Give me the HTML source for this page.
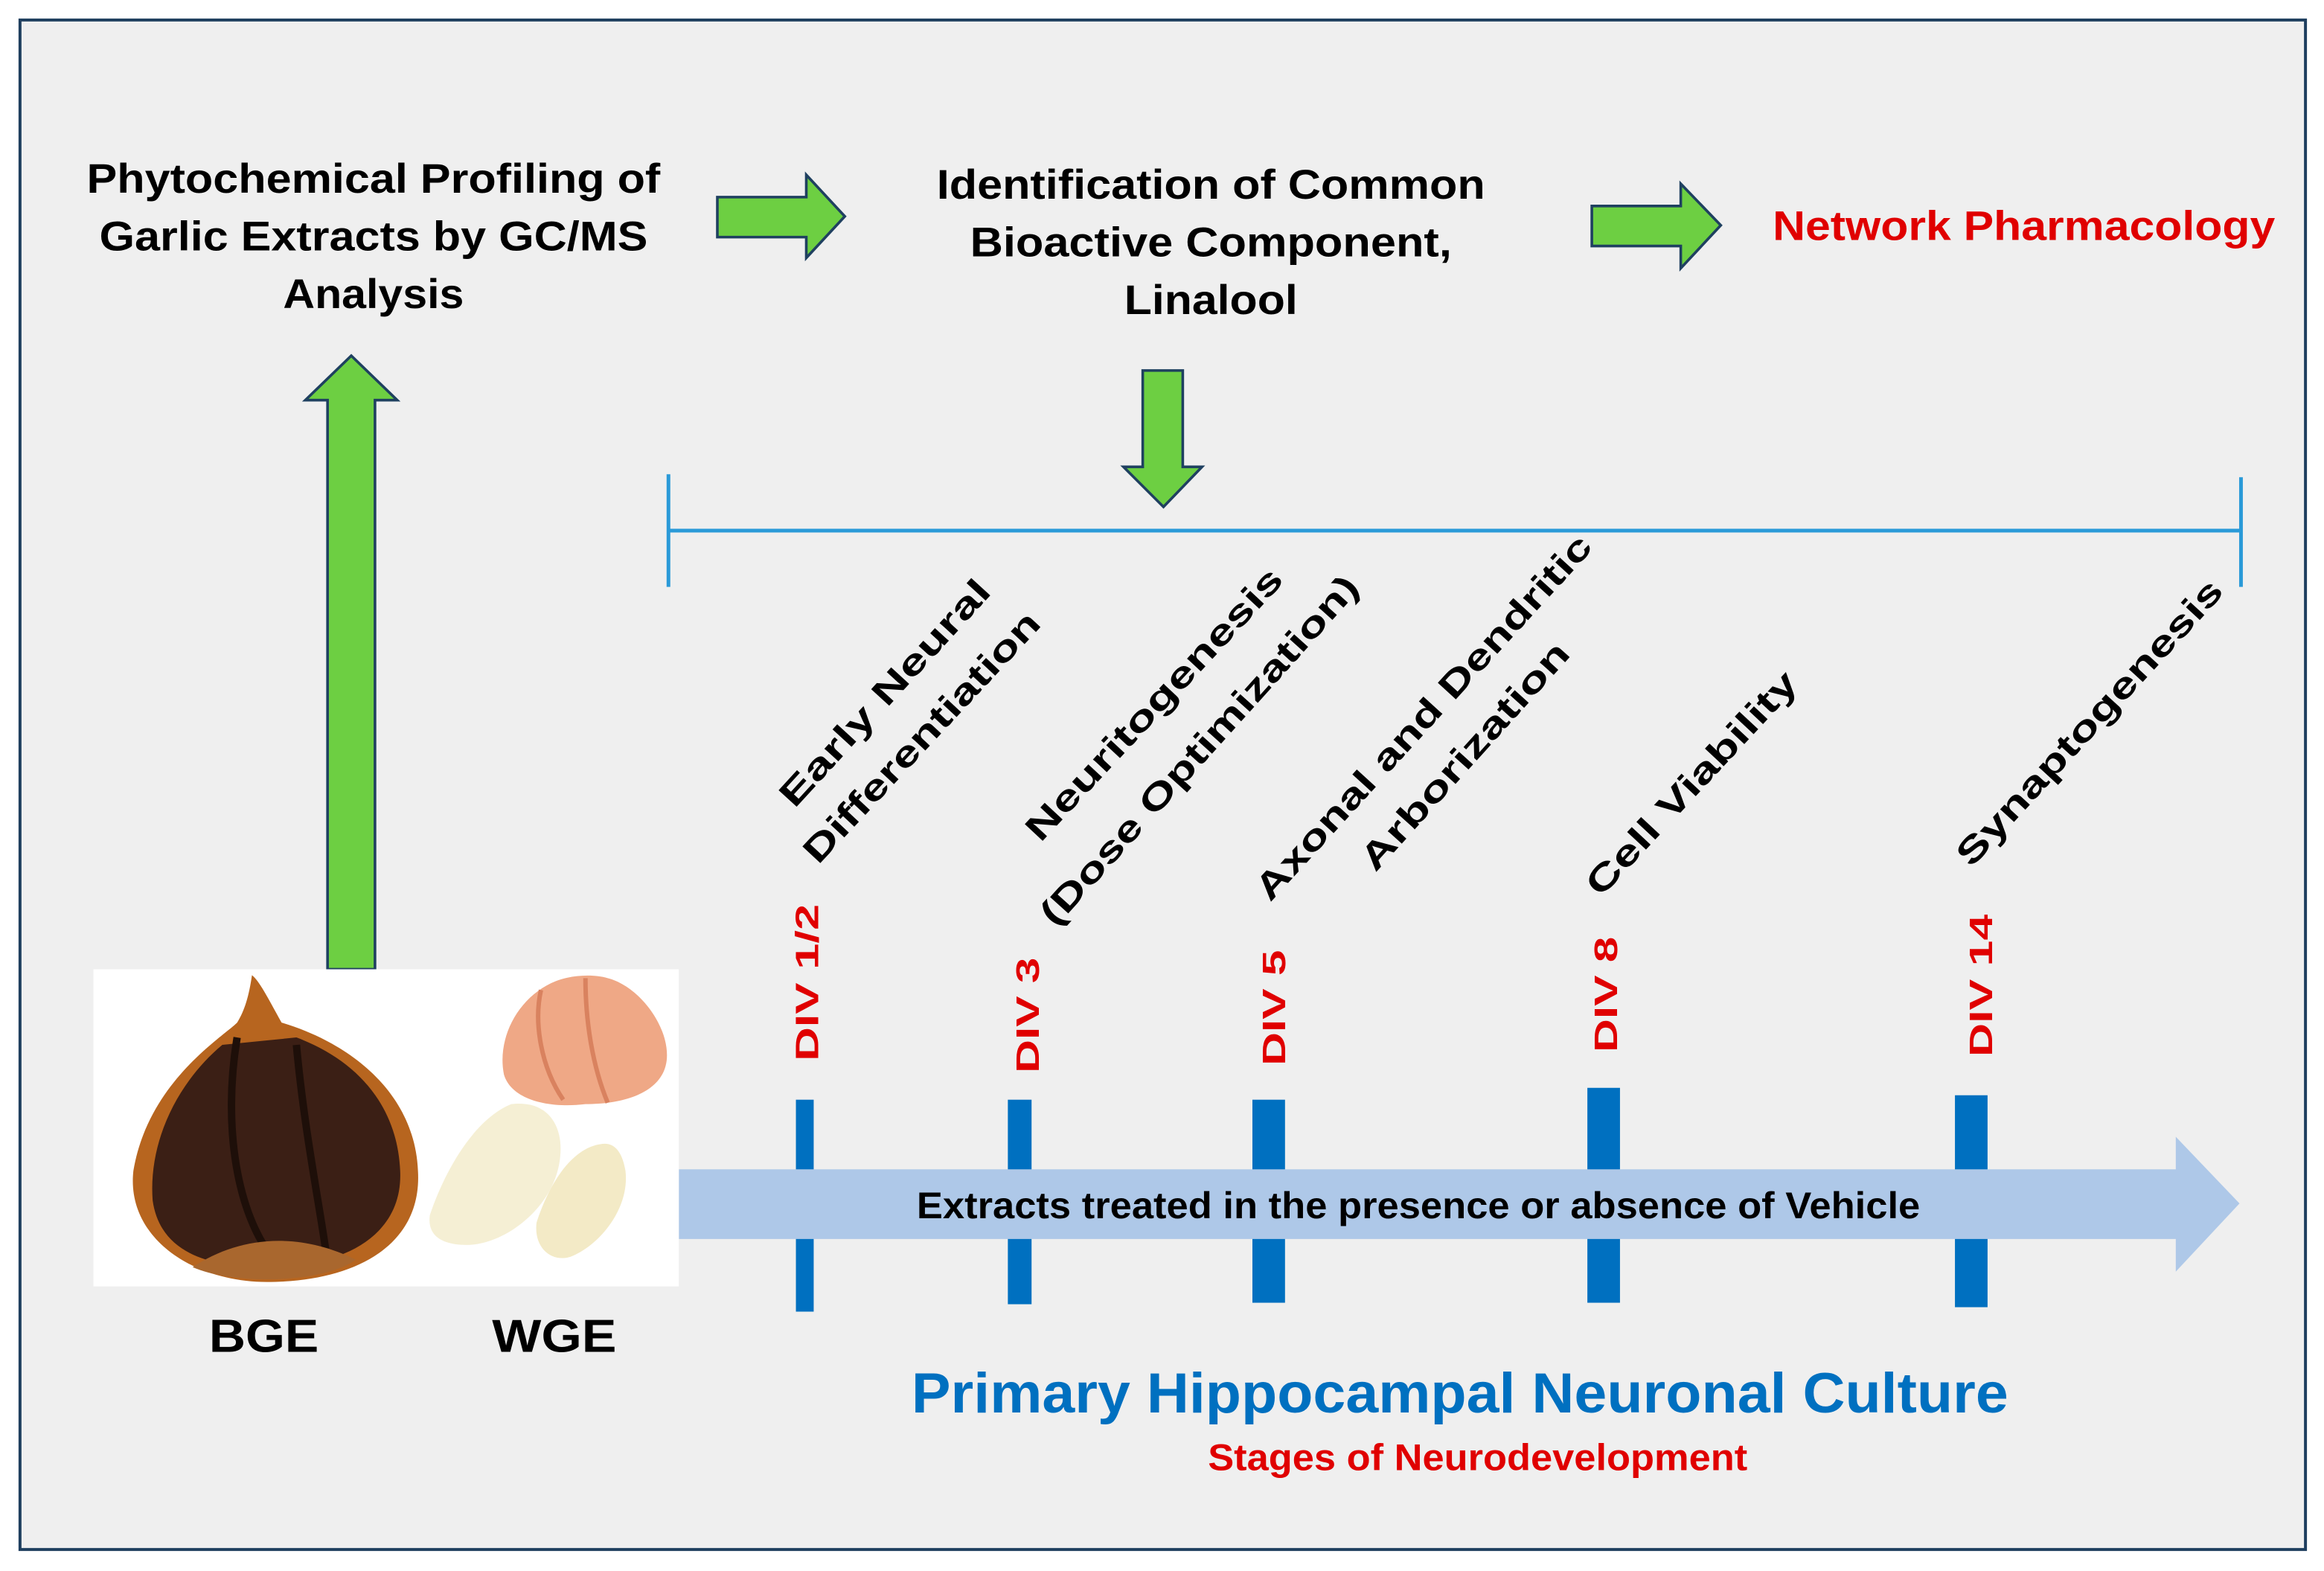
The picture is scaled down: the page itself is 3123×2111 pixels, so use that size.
<!DOCTYPE html>
<html><head><meta charset="utf-8"><style>
html,body{margin:0;padding:0;background:#fff}
svg{display:block}
text{font-family:"Liberation Sans",Arial,sans-serif;font-weight:bold}
</style></head><body>
<svg width="3123" height="2111" viewBox="0 0 1568 1060" preserveAspectRatio="none" xmlns="http://www.w3.org/2000/svg">
<rect x="0" y="0" width="1568" height="1060" fill="#ffffff"/>
<rect x="13.5" y="13.5" width="1542" height="1032" fill="#efefef" stroke="#1f3f5f" stroke-width="2"/>

<!-- top texts -->
<g font-size="28" fill="#000" text-anchor="middle">
<text x="252" y="130" textLength="387" lengthAdjust="spacingAndGlyphs">Phytochemical Profiling of</text>
<text x="252" y="169" textLength="370" lengthAdjust="spacingAndGlyphs">Garlic Extracts by GC/MS</text>
<text x="252" y="208" textLength="122" lengthAdjust="spacingAndGlyphs">Analysis</text>
<text x="817" y="134" textLength="370" lengthAdjust="spacingAndGlyphs">Identification of Common</text>
<text x="817" y="173" textLength="325" lengthAdjust="spacingAndGlyphs">Bioactive Component,</text>
<text x="817" y="212" textLength="117" lengthAdjust="spacingAndGlyphs">Linalool</text>
</g>
<text x="1196" y="162" font-size="28" fill="#e00000" textLength="339" lengthAdjust="spacingAndGlyphs">Network Pharmacology</text>

<!-- green arrows -->
<g fill="#6dcf42" stroke="#1f4060" stroke-width="1.8">
<polygon points="484,133 544,133 544,118 570,146 544,174 544,160 484,160"/>
<polygon points="1074,139 1134,139 1134,124 1161,152 1134,181 1134,166 1074,166"/>
<polygon points="221,654 221,270 206,270 237,240 268,270 253,270 253,654"/>
<polygon points="771,250 798,250 798,315 811,315 785,342 758,315 771,315"/>
</g>

<!-- timeline line -->
<g stroke="#2a9ad8" stroke-width="2.5">
<line x1="451" y1="358" x2="1512" y2="358"/>
<line x1="451" y1="320" x2="451" y2="396"/>
<line x1="1512" y1="322" x2="1512" y2="396"/>
</g>

<!-- rotated labels -->
<g font-size="24" fill="#000">
<text transform="translate(536,546) rotate(-47.5)" textLength="198" lengthAdjust="spacingAndGlyphs">Early Neural</text>
<text transform="translate(552,584) rotate(-47)" textLength="222" lengthAdjust="spacingAndGlyphs">Differentiation</text>
<text transform="translate(702,569) rotate(-47)" textLength="242" lengthAdjust="spacingAndGlyphs">Neuritogenesis</text>
<text transform="translate(712,626) rotate(-48)" textLength="308" lengthAdjust="spacingAndGlyphs">(Dose Optimization)</text>
<text transform="translate(857,609) rotate(-47.6)" textLength="324" lengthAdjust="spacingAndGlyphs">Axonal and Dendritic</text>
<text transform="translate(928,589) rotate(-48)" textLength="198" lengthAdjust="spacingAndGlyphs">Arborization</text>
<text transform="translate(1080,606) rotate(-47)" textLength="197" lengthAdjust="spacingAndGlyphs">Cell Viability</text>
<text transform="translate(1330,586) rotate(-47.4)" textLength="253" lengthAdjust="spacingAndGlyphs">Synaptogenesis</text>
</g>

<!-- DIV labels -->
<g font-size="22" fill="#e00000">
<text transform="translate(552,716) rotate(-90)" textLength="106" lengthAdjust="spacingAndGlyphs">DIV 1/2</text>
<text transform="translate(701,724) rotate(-90)" textLength="78" lengthAdjust="spacingAndGlyphs">DIV 3</text>
<text transform="translate(867,719) rotate(-90)" textLength="78" lengthAdjust="spacingAndGlyphs">DIV 5</text>
<text transform="translate(1091,710) rotate(-90)" textLength="78" lengthAdjust="spacingAndGlyphs">DIV 8</text>
<text transform="translate(1344,713) rotate(-90)" textLength="96" lengthAdjust="spacingAndGlyphs">DIV 14</text>
</g>

<!-- bars -->
<g fill="#0070c0">
<rect x="537" y="742" width="12" height="143"/>
<rect x="680" y="742" width="16" height="138"/>
<rect x="845" y="742" width="22" height="137"/>
<rect x="1071" y="734" width="22" height="145"/>
<rect x="1319" y="739" width="22" height="143"/>
</g>

<!-- big arrow -->
<polygon points="458,789 1468,789 1468,767 1511,812 1468,858 1468,836 458,836" fill="#aec8e8"/>
<text x="957" y="822" font-size="25" fill="#000" text-anchor="middle" textLength="677" lengthAdjust="spacingAndGlyphs">Extracts treated in the presence or absence of Vehicle</text>

<!-- garlic image -->
<rect x="63" y="654" width="395" height="214" fill="#ffffff"/>
<path d="M160,690 C150,700 100,730 90,790 C85,835 130,865 180,865 C240,865 285,840 282,790 C280,740 240,705 190,690 C180,672 175,662 170,658 C168,672 165,682 160,690 Z" fill="#b7651f"/>
<path d="M150,705 C120,730 100,770 103,810 C108,845 140,855 180,855 C230,855 272,835 270,790 C268,745 240,715 200,700 Z" fill="#3b1f15"/>
<path d="M160,700 C150,760 160,820 185,850 M200,705 C205,760 215,810 220,845" stroke="#1e0f09" stroke-width="5" fill="none"/>
<path d="M130,855 C160,835 200,830 240,850 C220,865 160,868 130,855 Z" fill="#a9672e"/>
<path d="M375,662 C350,672 335,700 340,725 C345,742 370,748 395,745 C425,745 450,735 450,712 C450,690 430,665 410,660 C400,657 385,658 375,662 Z" fill="#efa886"/>
<path d="M365,668 C360,690 365,720 380,742 M395,660 C395,690 400,720 410,744" stroke="#d9825f" stroke-width="3" fill="none"/>
<path d="M345,745 C320,755 300,790 290,820 C288,835 300,840 315,840 C340,840 375,815 378,780 C380,760 370,742 345,745 Z" fill="#f5efd4"/>
<path d="M405,772 C385,775 370,800 362,825 C360,842 372,852 385,848 C405,840 425,815 422,790 C420,778 415,770 405,772 Z" fill="#f3eac6"/>

<g font-size="31" fill="#000" text-anchor="middle">
<text x="178" y="912" textLength="74" lengthAdjust="spacingAndGlyphs">BGE</text>
<text x="374" y="912" textLength="84" lengthAdjust="spacingAndGlyphs">WGE</text>
</g>

<text x="985" y="953" font-size="38" fill="#0070c0" text-anchor="middle" textLength="740" lengthAdjust="spacingAndGlyphs">Primary Hippocampal Neuronal Culture</text>
<text x="997" y="992" font-size="25" fill="#e00000" text-anchor="middle" textLength="364" lengthAdjust="spacingAndGlyphs">Stages of Neurodevelopment</text>
</svg>
</body></html>
